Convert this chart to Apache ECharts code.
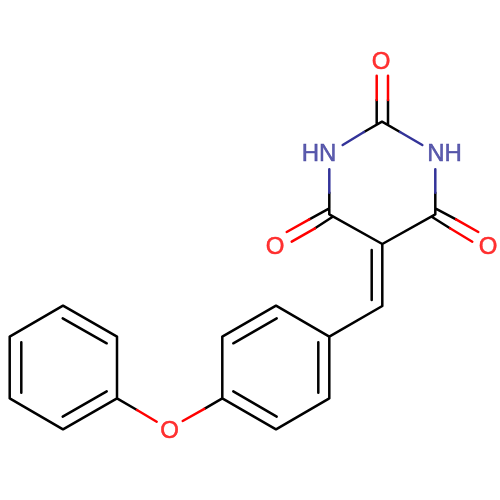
<!DOCTYPE html>
<html><head><meta charset="utf-8">
<style>html,body{margin:0;padding:0;background:#fff}#c{width:500px;height:500px}</style>
<script src="https://cdn.jsdelivr.net/npm/echarts@6/dist/echarts.min.js"></script>
</head><body><div id="c"></div>
<script>
const atomLabels = [
  ['O', 381, 62.5, 'o'], ['HN', 319, 154.5, 'n'], ['NH', 444.5, 154.5, 'n'],
  ['O', 275, 247.5, 'o'], ['O', 488, 247.5, 'o'], ['O', 169.5, 431.5, 'o']
];
const blackBonds = [
  [9.7,336.7,63,305.7],[63,305.7,117,336.7],[117,336.7,117,398.3],[117,398.3,63,429.3],[63,429.3,9.7,398.3],[9.7,398.3,9.7,336.7],
  [62.7,318.3,106.7,343.3],[21.3,342.3,21.3,392.7],[62.7,416.7,106.7,391.3],
  [222.3,336.7,276,305.7],[276,305.7,329.3,336.7],[329.3,336.7,329.3,398.3],[329.3,398.3,276,429.3],[276,429.3,222.3,398.3],[222.3,398.3,222.3,336.7],
  [233.3,343.3,276.7,318.3],[318.3,342.3,318.3,392.7],[233.3,391.3,276.7,416.7],
  [329.3,336.7,382.3,306],[382.3,306,382.3,244],[371.7,250,371.7,300],
  [382.3,244,329.3,214.3],[382.3,244,435.3,214.3],
  [329.3,214.3,329.3,192.7],[435.3,214.3,435.3,192.7],
  [382,121.7,364,132],[382,121.7,400,132],
  [376.7,124,376.7,100],[388,124,388,100],
  [329.3,208.3,309.3,219.3],[332.7,216.7,315,228.3],
  [435.3,208.3,456,219.3],[431.7,216.7,450,228.3],
  [117,398.3,137,410],[222.3,398.3,204.3,408.8]
];
const redBonds = [
  [376.7,100,376.7,75.7],[388,100,388,75.7],
  [309.3,219.3,286.7,232],[315,228.3,291.7,241.7],
  [456,219.3,478.3,232],[450,228.3,472.3,241.7],
  [137,410,156.7,421.7],[204.3,408.8,182.7,421]
];
const blueBonds = [
  [364,132,342.7,145],[400,132,422.3,145],
  [329.3,192.7,329.3,169.3],[435.3,192.7,435.3,169.3]
];
const colors = {o:'#ff0000', n:'#333399', k:'#000000'};
const path = b => b.flatMap(s => [[s[0],s[1]],[s[2],s[3]],[null,null]]);
const bondSeries = (b,c) => ({type:'line', data:path(b), showSymbol:false, connectNulls:false,
  lineStyle:{color:c,width:2.5,cap:'round',join:'round'}, silent:true, z:2});
const chart = echarts.init(document.getElementById('c'),null,{renderer:'canvas'});
chart.setOption({
  animation:false, backgroundColor:'#ffffff',
  grid:{left:0,right:0,top:0,bottom:0},
  xAxis:{type:'value',min:0,max:500,show:false},
  yAxis:{type:'value',min:0,max:500,inverse:true,show:false},
  series:[
    bondSeries(blackBonds,colors.k), bondSeries(redBonds,colors.o), bondSeries(blueBonds,colors.n),
    {type:'scatter',symbolSize:1,itemStyle:{color:'rgba(255,255,255,0)'},silent:true,z:3,
     data:atomLabels.map(a=>({value:[a[1],a[2]],
       label:{show:true,position:'inside',formatter:a[0],color:colors[a[3]],
              textBorderColor:colors[a[3]],textBorderWidth:0.5,
              fontFamily:'Liberation Sans',fontSize:24,align:'center',verticalAlign:'middle'}}))}
  ]
});
</script></body></html>
